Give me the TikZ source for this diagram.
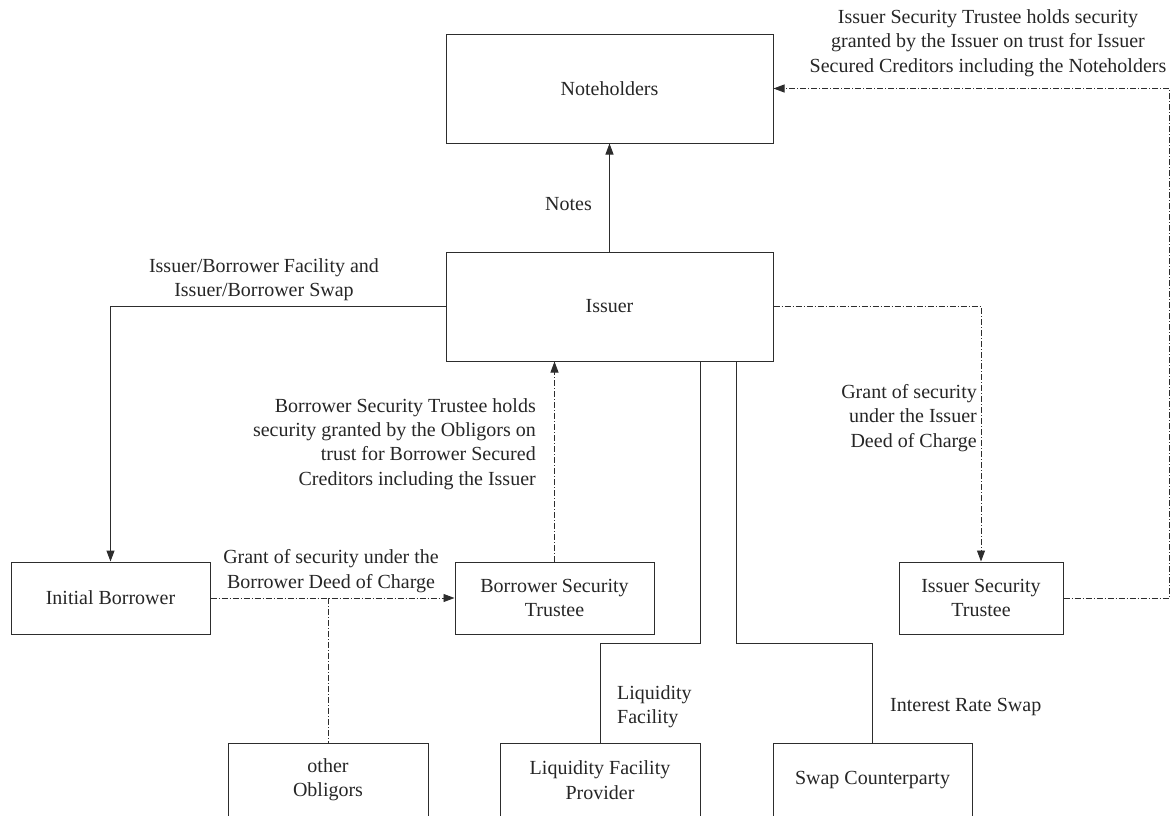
\documentclass[tikz,border=0pt]{standalone}
\usepackage{fontspec}
\setmainfont{Liberation Serif}
\usetikzlibrary{arrows.meta}
\definecolor{ln}{RGB}{45,45,45}
\tikzset{
  box/.style={draw=ln, line width=1pt, rectangle, inner sep=0pt, align=center,
              font=\fontsize{20}{24.3}\selectfont, text=black!85},
  lbl/.style={inner sep=0pt, font=\fontsize{20}{24.3}\selectfont, text=black!85},
  solidline/.style={draw=ln, line width=1pt},
  dashdot/.style={draw=ln, line width=0.9pt, dash pattern=on 6pt off 2pt on 1pt off 2pt},
  arr/.style={-{Triangle[length=11pt,width=8pt]}}
}
\begin{document}
\begin{tikzpicture}[x=1pt,y=-1pt]
\useasboundingbox (0,0) rectangle (1171,815);
% boxes
\node[box, minimum width=327pt, minimum height=109pt] (NH) at (609.5,88.5) {Noteholders};
\node[box, minimum width=327pt, minimum height=109pt] (IS) at (609.5,306.5) {Issuer};
\node[box, minimum width=199pt, minimum height=72pt] (IB) at (110.5,598) {Initial Borrower};
\node[box, minimum width=199pt, minimum height=72pt] (BST) at (554.5,598) {Borrower Security\\Trustee};
\node[box, minimum width=164pt, minimum height=72pt] (IST) at (981,598) {Issuer Security\\Trustee};
\node[box, minimum width=200pt, minimum height=74pt] (OO) at (328,780) {other\\Obligors};
\node[box, minimum width=200pt, minimum height=74pt] (LFP) at (600,780) {Liquidity Facility\\Provider};
\node[box, minimum width=199pt, minimum height=74pt] (SC) at (872.5,780) {Swap Counterparty};
% coordinates
\coordinate (br) at (328,598);
\coordinate (lq1) at (700,361);
\coordinate (lq2) at (700,643);
\coordinate (sw1) at (736,361);
\coordinate (sw2) at (736,643);
\coordinate (rt1) at (1169.5,598);
\coordinate (rt2) at (1169.5,88.5);
% connectors
\draw[solidline, arr] (IS.north) -- (NH.south);
\draw[solidline, arr] (IS.west) -| (IB.north);
\draw[dashdot, arr] (IB.east) -- (BST.west);
\draw[dashdot] (br) -- (OO.north);
\draw[dashdot, arr] (BST.north) -- (BST.north |- IS.south);
\draw[solidline] (lq1) -- (lq2) -| (LFP.north);
\draw[solidline] (sw1) -- (sw2) -| (SC.north);
\draw[dashdot, arr] (IS.east) -| (IST.north);
\draw[dashdot, arr] (IST.east) -- (rt1) -- (rt2) -- (NH.east);
% labels
\node[lbl] (lNotes) at (568.5,204) {Notes};
\node[lbl, align=center] (lTop) at (988,43) {Issuer Security Trustee holds security\\granted by the Issuer on trust for Issuer\\Secured Creditors including the Noteholders};
\node[lbl, align=center] (lIBF) at (264,280) {Issuer/Borrower Facility and\\Issuer/Borrower Swap};
\node[lbl, align=right, anchor=east] (lBST) at (536,444) {Borrower Security Trustee holds\\security granted by the Obligors on\\trust for Borrower Secured\\Creditors including the Issuer};
\node[lbl, align=right, anchor=east] (lIDC) at (977,418) {Grant of security\\under the Issuer\\Deed of Charge};
\node[lbl, align=center] (lBDC) at (331,571) {Grant of security under the\\Borrower Deed of Charge};
\node[lbl, align=left, anchor=west] (lLF) at (617,706.5) {Liquidity\\Facility};
\node[lbl, anchor=west] (lIRS) at (890,707) {Interest Rate Swap};
\end{tikzpicture}
\end{document}
